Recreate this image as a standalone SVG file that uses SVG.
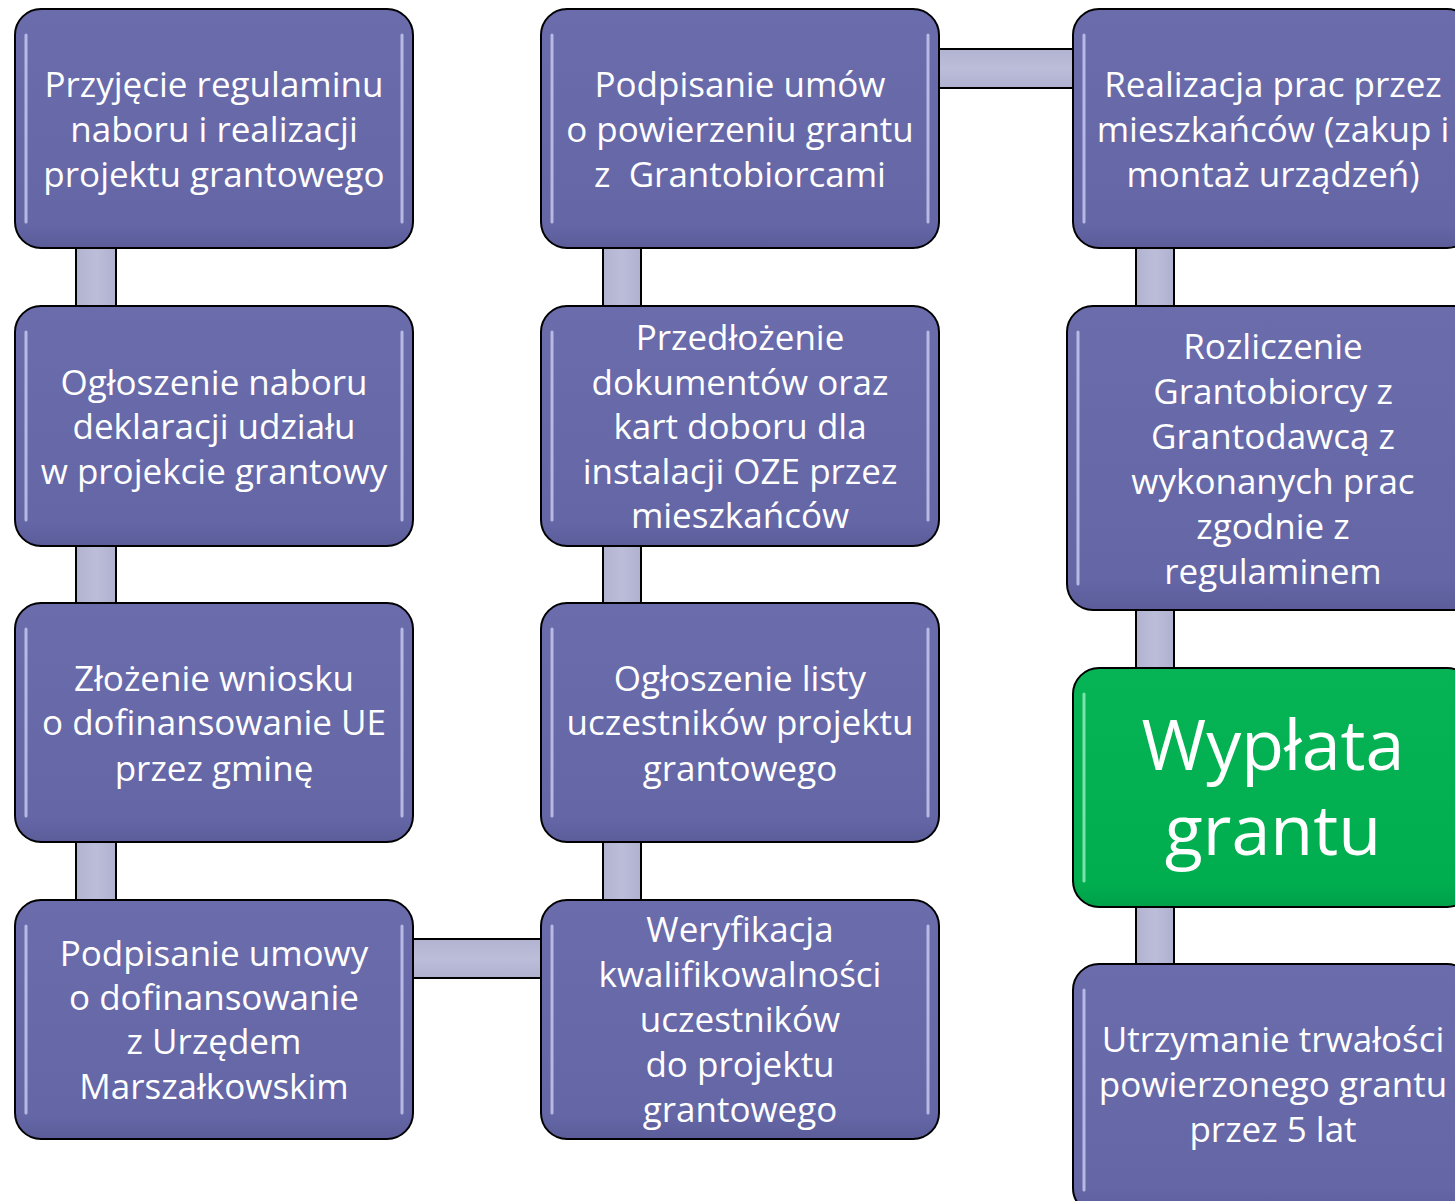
<svg xmlns="http://www.w3.org/2000/svg" width="1455" height="1201" viewBox="0 0 1455 1201">
<defs>
<linearGradient id="gp" x1="0" y1="0" x2="0" y2="1">
<stop offset="0" stop-color="#6b6cac"/>
<stop offset="0.9" stop-color="#6566a6"/>
<stop offset="1" stop-color="#5b5c99"/>
</linearGradient>
<linearGradient id="gg" x1="0" y1="0" x2="0" y2="1">
<stop offset="0" stop-color="#06b455"/>
<stop offset="0.9" stop-color="#00ae4f"/>
<stop offset="1" stop-color="#00a049"/>
</linearGradient>
<linearGradient id="cv" x1="0" y1="0" x2="1" y2="0">
<stop offset="0" stop-color="#b2b3d0"/>
<stop offset="0.5" stop-color="#bcbdd9"/>
<stop offset="1" stop-color="#b0b1cf"/>
</linearGradient>
<linearGradient id="ch" x1="0" y1="0" x2="0" y2="1">
<stop offset="0" stop-color="#b2b3d0"/>
<stop offset="0.5" stop-color="#bcbdd9"/>
<stop offset="1" stop-color="#b0b1cf"/>
</linearGradient>
</defs>
<style>
.box{fill:url(#gp);stroke:#000;stroke-width:2}
.green{fill:url(#gg);stroke:#000;stroke-width:2}
.hl{stroke:#d4d5f7;stroke-width:3;stroke-linecap:round;opacity:0.75}
.hlg{stroke:#9af0c0;stroke-width:3;stroke-linecap:round;opacity:0.8}
.cv{fill:url(#cv);stroke:#000;stroke-width:2}
.ch{fill:url(#ch);stroke:#000;stroke-width:2}
text{font-family:"Open Sans","Noto Sans","DejaVu Sans",sans-serif;fill:#fff;text-anchor:middle;font-size:35px;white-space:pre}
.big{font-size:70px}
</style>
<rect width="1455" height="1201" fill="#fff"/>
<g id="connectors">
<rect class="cv" x="76" y="240" width="40" height="74"/>
<rect class="cv" x="76" y="538" width="40" height="74"/>
<rect class="cv" x="76" y="834" width="40" height="74"/>
<rect class="ch" x="405" y="939" width="144" height="39"/>
<rect class="cv" x="603" y="240" width="38" height="74"/>
<rect class="cv" x="603" y="538" width="38" height="74"/>
<rect class="cv" x="603" y="834" width="38" height="74"/>
<rect class="ch" x="931" y="49" width="150" height="39"/>
<rect class="cv" x="1136" y="240" width="38" height="74"/>
<rect class="cv" x="1136" y="602" width="38" height="74"/>
<rect class="cv" x="1136" y="899" width="38" height="73"/>
</g>
<g id="n1">
<rect class="box" x="15" y="9" width="398" height="239" rx="26"/>
<line class="hl" x1="26" y1="35" x2="26" y2="222"/><line class="hl" x1="402" y1="35" x2="402" y2="222"/>
<text x="214" y="97">Przyjęcie regulaminu</text><text x="214" y="142">naboru i realizacji</text><text x="214" y="187">projektu grantowego</text>
</g>
<g id="n2">
<rect class="box" x="15" y="306" width="398" height="240" rx="26"/>
<line class="hl" x1="26" y1="332" x2="26" y2="520"/><line class="hl" x1="402" y1="332" x2="402" y2="520"/>
<text x="214" y="395">Ogłoszenie naboru</text><text x="214" y="439">deklaracji udziału</text><text x="214" y="484">w projekcie grantowy</text>
</g>
<g id="n3">
<rect class="box" x="15" y="603" width="398" height="239" rx="26"/>
<line class="hl" x1="26" y1="629" x2="26" y2="816"/><line class="hl" x1="402" y1="629" x2="402" y2="816"/>
<text x="214" y="691">Złożenie wniosku</text><text x="214" y="735">o dofinansowanie UE</text><text x="214" y="781">przez gminę</text>
</g>
<g id="n4">
<rect class="box" x="15" y="900" width="398" height="239" rx="26"/>
<line class="hl" x1="26" y1="926" x2="26" y2="1113"/><line class="hl" x1="402" y1="926" x2="402" y2="1113"/>
<text x="214" y="966">Podpisanie umowy</text><text x="214" y="1010">o dofinansowanie</text><text x="214" y="1054">z Urzędem</text><text x="214" y="1099">Marszałkowskim</text>
</g>
<g id="n5">
<rect class="box" x="541" y="9" width="398" height="239" rx="26"/>
<line class="hl" x1="552" y1="35" x2="552" y2="222"/><line class="hl" x1="928" y1="35" x2="928" y2="222"/>
<text x="740" y="97">Podpisanie umów</text><text x="740" y="142">o powierzeniu grantu</text><text x="740" y="187">z  Grantobiorcami</text>
</g>
<g id="n6">
<rect class="box" x="541" y="306" width="398" height="240" rx="26"/>
<line class="hl" x1="552" y1="332" x2="552" y2="520"/><line class="hl" x1="928" y1="332" x2="928" y2="520"/>
<text x="740" y="350">Przedłożenie</text><text x="740" y="395">dokumentów oraz</text><text x="740" y="439">kart doboru dla</text><text x="740" y="484">instalacji OZE przez</text><text x="740" y="528">mieszkańców</text>
</g>
<g id="n7">
<rect class="box" x="541" y="603" width="398" height="239" rx="26"/>
<line class="hl" x1="552" y1="629" x2="552" y2="816"/><line class="hl" x1="928" y1="629" x2="928" y2="816"/>
<text x="740" y="691">Ogłoszenie listy</text><text x="740" y="735">uczestników projektu</text><text x="740" y="781">grantowego</text>
</g>
<g id="n8">
<rect class="box" x="541" y="900" width="398" height="239" rx="26"/>
<line class="hl" x1="552" y1="926" x2="552" y2="1113"/><line class="hl" x1="928" y1="926" x2="928" y2="1113"/>
<text x="740" y="942">Weryfikacja</text><text x="740" y="987">kwalifikowalności</text><text x="740" y="1032">uczestników</text><text x="740" y="1077">do projektu</text><text x="740" y="1122">grantowego</text>
</g>
<g id="n9">
<rect class="box" x="1073" y="9" width="400" height="239" rx="26"/>
<line class="hl" x1="1084" y1="35" x2="1084" y2="222"/>
<text x="1273" y="97">Realizacja prac przez</text><text x="1273" y="142">mieszkańców (zakup i</text><text x="1273" y="187">montaż urządzeń)</text>
</g>
<g id="n10">
<rect class="box" x="1067" y="306" width="412" height="304" rx="26"/>
<line class="hl" x1="1078" y1="332" x2="1078" y2="584"/>
<text x="1273" y="359">Rozliczenie</text><text x="1273" y="404">Grantobiorcy z</text><text x="1273" y="449">Grantodawcą z</text><text x="1273" y="494">wykonanych prac</text><text x="1273" y="539">zgodnie z</text><text x="1273" y="584">regulaminem</text>
</g>
<g id="n11">
<rect class="green" x="1073" y="668" width="400" height="239" rx="26"/>
<line class="hlg" x1="1084" y1="694" x2="1084" y2="881"/>
<text class="big" x="1273" y="770">Wypłata</text><text class="big" x="1273" y="855">grantu</text>
</g>
<g id="n12">
<rect class="box" x="1073" y="964" width="400" height="250" rx="26"/>
<line class="hl" x1="1084" y1="990" x2="1084" y2="1190"/>
<text x="1273" y="1052">Utrzymanie trwałości</text><text x="1273" y="1097">powierzonego grantu</text><text x="1273" y="1142">przez 5 lat</text>
</g>
</svg>
